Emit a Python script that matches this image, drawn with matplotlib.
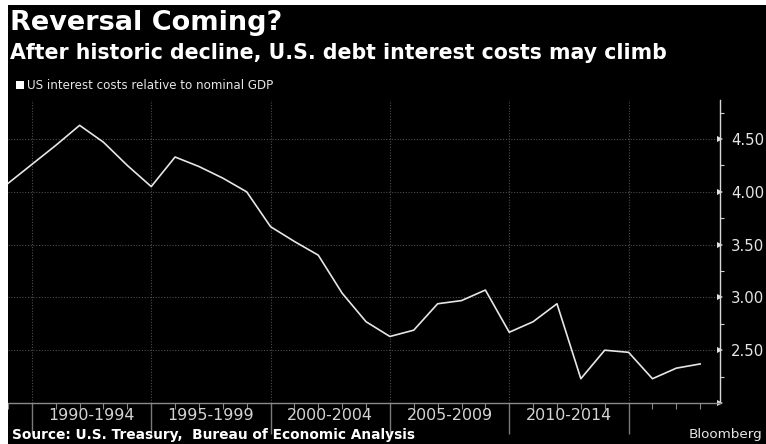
import matplotlib
matplotlib.use('Agg')
import matplotlib.pyplot as plt
from matplotlib.patches import Rectangle
from matplotlib.ticker import FixedLocator, FuncFormatter

# US federal interest costs as a share of nominal GDP, annual
years = list(range(1989, 2019))
interest_pct_gdp = [4.08, 4.26, 4.44, 4.63, 4.47, 4.25, 4.05, 4.33, 4.24, 4.13,
                    4.00, 3.67, 3.53, 3.40, 3.04, 2.77, 2.63, 2.69, 2.94, 2.97,
                    3.07, 2.67, 2.77, 2.94, 2.23, 2.50, 2.48, 2.23, 2.33, 2.37]

period_starts = [1990, 1995, 2000, 2005, 2010, 2015]
period_labels = ['1990-1994', '1995-1999', '2000-2004', '2005-2009', '2010-2014']
y_major = [2.0, 2.5, 3.0, 3.5, 4.0, 4.5]
y_minor = [2.25, 2.75, 3.25, 3.75, 4.25, 4.75]

W, H = 766, 444
fig = plt.figure(figsize=(W / 100, H / 100), dpi=100, facecolor='black')

# thin white frame along top and left edges
fig.add_artist(Rectangle((0, 0), 8 / W, 1, transform=fig.transFigure,
                         color='white', lw=0))
fig.add_artist(Rectangle((0, 1 - 5 / H), 1, 5 / H, transform=fig.transFigure,
                         color='white', lw=0))

ax = fig.add_axes([8 / W, 41 / H, 712 / W, 303 / H])
ax.set_facecolor('black')
ax.plot(years, interest_pct_gdp, color='#e6e6e6', lw=1.2, zorder=3)
ax.set_xlim(1989, 2018.83)
ax.set_ylim(2.0, 4.87)

for s in ['top', 'left']:
    ax.spines[s].set_visible(False)
ax.spines['right'].set_color('#d8d8d8')
ax.spines['right'].set_linewidth(1.0)
ax.spines['bottom'].set_color('#8a8a8a')
ax.spines['bottom'].set_linewidth(1.0)

# right-hand value axis
ax.yaxis.tick_right()
ax.yaxis.set_major_locator(FixedLocator(y_major))
ax.yaxis.set_minor_locator(FixedLocator(y_minor))
ax.yaxis.set_major_formatter(FuncFormatter(lambda v, p: '' if v < 2.1 else '%.2f' % v))
ax.tick_params(axis='y', which='major', direction='out', length=3, width=1,
               color='#e0e0e0', labelcolor='#e6e6e6', labelsize=10.7, pad=5)
ax.tick_params(axis='y', which='minor', direction='out', length=3, width=0.8,
               color='#d0d0d0')
for t in ax.yaxis.get_major_ticks():
    t.tick2line.set_marker('>')
    t.tick2line.set_markersize(5)
    t.tick2line.set_markeredgewidth(0)

# period axis along the bottom
ax.xaxis.set_major_locator(FixedLocator(period_starts))
ax.xaxis.set_minor_locator(FixedLocator(years))
ax.tick_params(axis='x', which='major', direction='out', length=22, width=1,
               color='#7a7a7a', labelbottom=False)
ax.tick_params(axis='x', which='minor', direction='out', length=4, width=0.8,
               color='#8a8a8a')
for start, lab in zip(period_starts, period_labels):
    ax.text(start + 2.5, -12 / 303, lab, transform=ax.get_xaxis_transform(),
            ha='center', va='center', fontsize=11.4, color='#d4d4d4')

# dotted grid
for v in y_major[1:]:
    ax.axhline(v, color='#4d4d4d', lw=0.8, ls=(0, (1, 1.5)), zorder=1)
for x in period_starts:
    ax.axvline(x, color='#4d4d4d', lw=0.8, ls=(0, (1, 1.5)), zorder=1)

# titles and legend
fig.text(10 / W, 1 - 30 / H, 'Reversal Coming?', fontsize=19.5, weight='bold',
         color='white', va='baseline')
fig.text(10 / W, 1 - 59 / H, 'After historic decline, U.S. debt interest costs may climb',
         fontsize=14.8, weight='bold', color='white', va='baseline')
fig.add_artist(Rectangle((16 / W, 1 - 89 / H), 8 / W, 8 / H,
                         transform=fig.transFigure, color='white', lw=0))
fig.text(27 / W, 1 - 89 / H, 'US interest costs relative to nominal GDP',
         fontsize=8.6, color='#e6e6e6', va='baseline')

# footer
fig.text(12 / W, 1 - 439 / H, 'Source: U.S. Treasury,  Bureau of Economic Analysis',
         fontsize=9.9, weight='bold', color='white', va='baseline')
fig.text(762 / W, 1 - 438 / H, 'Bloomberg', fontsize=9.7, color='#e6e6e6',
         ha='right', va='baseline')

fig.savefig('out.png', dpi=100, facecolor='black')
